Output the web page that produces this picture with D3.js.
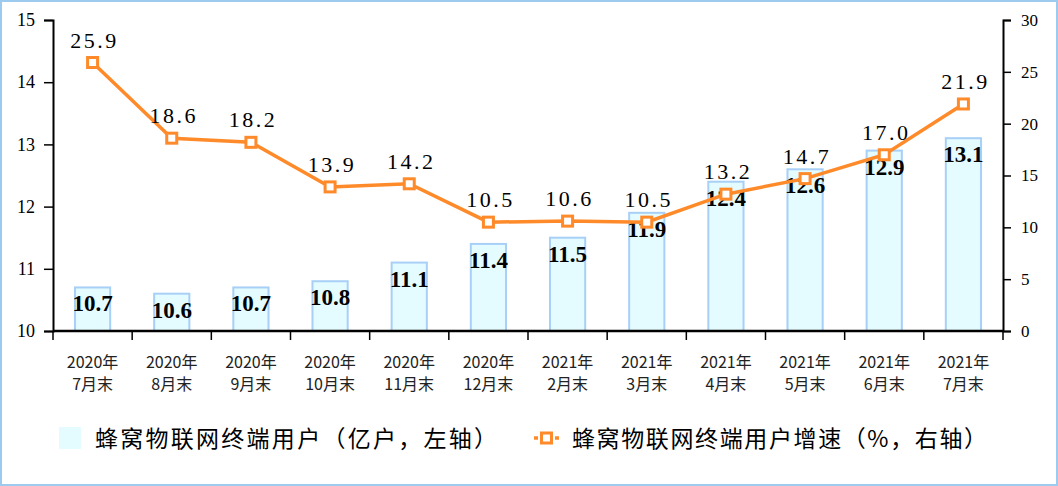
<!DOCTYPE html>
<html><head><meta charset="utf-8">
<script src="https://cdn.jsdelivr.net/npm/d3@7"></script>
<style>body{margin:0;background:#fff}svg{display:block}</style>
</head><body>
<svg id="c" width="1058" height="486"></svg>
<script>
const categories = ["2020年|7月末","2020年|8月末","2020年|9月末","2020年|10月末","2020年|11月末","2020年|12月末","2021年|2月末","2021年|3月末","2021年|4月末","2021年|5月末","2021年|6月末","2021年|7月末"];
const users = [10.7,10.6,10.7,10.8,11.1,11.4,11.5,11.9,12.4,12.6,12.9,13.1];
const growth = [25.9,18.6,18.2,13.9,14.2,10.5,10.6,10.5,13.2,14.7,17.0,21.9];
const leftTicks = [10,11,12,13,14,15];
const rightTicks = [0,5,10,15,20,25,30];
const legendLabels = ["蜂窝物联网终端用户（亿户，左轴）","蜂窝物联网终端用户增速（%，右轴）"];

const svg = d3.select("#c");
const W=1058,H=486;
const L=53,R=1003,T=20,B=331;
const serif = "'Liberation Serif','DejaVu Serif',serif";
const cjk = "'Noto Sans CJK SC','Noto Sans',sans-serif";
const orange="#ff8a2a";

svg.append("rect").attr("x",1).attr("y",1).attr("width",W-2).attr("height",H-2)
  .attr("fill","#fff").attr("stroke","#9dcbf0").attr("stroke-width",2);

const x = d3.scaleBand().domain(d3.range(categories.length)).range([L,R]).paddingInner(0.53).paddingOuter(0.265);
const xb = d3.scaleBand().domain(d3.range(categories.length)).range([L,R]);
const yL = d3.scaleLinear().domain([10,15]).range([B,T]);
const yR = d3.scaleLinear().domain([0,30]).range([B,T]);

// bars
svg.append("g").selectAll("rect").data(users).join("rect")
  .attr("x",(d,i)=>x(i)+1).attr("width",x.bandwidth()-2)
  .attr("y",d=>yL(d)).attr("height",d=>B-yL(d))
  .attr("fill","#e4fbff").attr("stroke","#a8d0f7").attr("stroke-width",2);

// left axis
const gl = svg.append("g").attr("transform",`translate(${L},0)`)
  .call(d3.axisLeft(yL).tickValues(leftTicks).tickSize(9).tickPadding(9).tickFormat(d3.format("d")));
gl.attr("font-family",serif);
gl.select(".domain").attr("stroke","#000").attr("stroke-width",2);
gl.selectAll(".tick line").attr("stroke","#000").attr("stroke-width",1.5);
gl.selectAll("text").attr("font-family",serif).attr("font-size",18).attr("fill","#000");

// right axis
const gr = svg.append("g").attr("transform",`translate(${R},0)`)
  .call(d3.axisRight(yR).tickValues(rightTicks).tickSize(8).tickPadding(10).tickFormat(d3.format("d")));
gr.attr("font-family",serif);
gr.select(".domain").attr("stroke","#000").attr("stroke-width",2);
gr.selectAll(".tick line").attr("stroke","#000").attr("stroke-width",1.5);
gr.selectAll("text").attr("font-family",serif).attr("font-size",17).attr("fill","#000");

// bottom axis
const bx = svg.append("g").attr("transform",`translate(0,${B})`);
bx.append("line").attr("x1",L).attr("x2",R).attr("stroke","#000").attr("stroke-width",2.5);
bx.selectAll("line.t").data(d3.range(categories.length+1)).join("line").attr("class","t")
  .attr("x1",i=>L+i*xb.bandwidth()).attr("x2",i=>L+i*xb.bandwidth())
  .attr("y1",0).attr("y2",9).attr("stroke","#000").attr("stroke-width",1.5);
const xl = bx.selectAll("text").data(categories).join("text")
  .attr("font-family",cjk).attr("font-size",16).attr("fill","#222").attr("text-anchor","middle");
xl.each(function(d,i){
  const parts=d.split("|"); const cx=xb(i)+xb.bandwidth()/2;
  d3.select(this).selectAll("tspan").data(parts).join("tspan")
    .attr("x",cx).attr("y",(p,j)=>37+j*22).text(p=>p);
});

// bar labels
svg.append("g").selectAll("text").data(users).join("text")
  .attr("x",(d,i)=>x(i)+x.bandwidth()/2).attr("y",d=>yL(d)+24)
  .attr("text-anchor","middle").attr("font-family",serif).attr("font-weight","bold")
  .attr("font-size",23).attr("fill","#000").text(d=>d.toFixed(1));

// line
const line = d3.line().x((d,i)=>xb(i)+xb.bandwidth()/2).y(d=>yR(d));
svg.append("path").datum(growth).attr("d",line).attr("fill","none")
  .attr("stroke",orange).attr("stroke-width",3.5);
svg.append("g").selectAll("rect").data(growth).join("rect")
  .attr("x",(d,i)=>xb(i)+xb.bandwidth()/2-5).attr("y",d=>yR(d)-5)
  .attr("width",10).attr("height",10).attr("fill","#fff").attr("stroke",orange).attr("stroke-width",3);
svg.append("g").selectAll("text").data(growth).join("text")
  .attr("x",(d,i)=>xb(i)+xb.bandwidth()/2+2).attr("y",d=>yR(d)-15)
  .attr("text-anchor","middle").attr("font-family",serif).attr("font-size",22)
  .attr("letter-spacing",2.5).attr("fill","#000").text(d=>d.toFixed(1));

// legend
const lg = svg.append("g");
lg.append("rect").attr("x",59).attr("y",427).attr("width",22).attr("height",22).attr("fill","#e4fbff");
lg.append("text").attr("x",95).attr("y",447).attr("font-family",cjk).attr("font-size",23)
  .attr("textLength",402).attr("lengthAdjust","spacing").attr("fill","#000").text(legendLabels[0]);
lg.append("line").attr("x1",534).attr("x2",559).attr("y1",438).attr("y2",438).attr("stroke",orange).attr("stroke-width",3.5).attr("stroke-dasharray","4,3,11,3,4");
lg.append("rect").attr("x",541.5).attr("y",433).attr("width",10).attr("height",10).attr("fill","#fff").attr("stroke",orange).attr("stroke-width",3);
lg.append("text").attr("x",572).attr("y",447).attr("font-family",cjk).attr("font-size",23)
  .attr("textLength",415).attr("lengthAdjust","spacing").attr("fill","#000").text(legendLabels[1]);
</script>
</body></html>
